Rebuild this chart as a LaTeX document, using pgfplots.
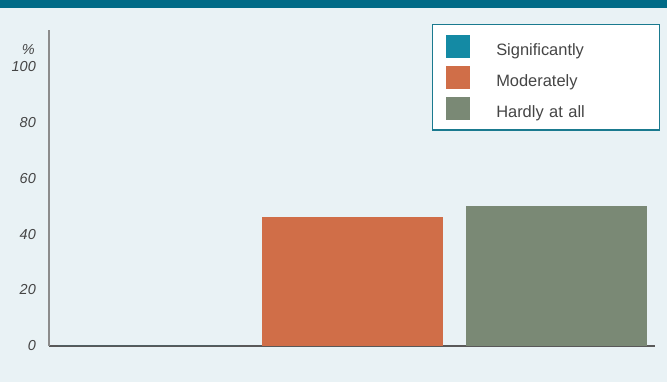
\documentclass[border=0pt]{standalone}
\usepackage{pgfplots}
\pgfplotsset{compat=1.18}
\usepackage{fontspec}
\setmainfont{Liberation Sans}
\definecolor{bg}{HTML}{E9F2F5}
\definecolor{band}{HTML}{006B87}
\definecolor{cSig}{HTML}{148AA4}
\definecolor{cMod}{HTML}{D06E48}
\definecolor{cHard}{HTML}{7A8975}
\definecolor{txt}{HTML}{454545}
\definecolor{legborder}{HTML}{1A7A8F}
\begin{document}
\begin{tikzpicture}
\fill[bg] (0,0) rectangle (667bp,382bp);
\fill[band] (0,373.7bp) rectangle (667bp,382bp);
\begin{axis}[
  at={(49bp,36bp)}, anchor=south west,
  scale only axis, width=606bp, height=316bp,
  xmin=-0.488, xmax=2.483, ymin=0, ymax=112.9,
  axis x line*=bottom, axis y line*=left,
  x axis line style={draw=black!65, line width=1.2bp},
  y axis line style={draw=black!45, line width=1.3bp},
  xtick=\empty, ytick={0,20,40,60,80,100},
  major tick length=0pt,
  /pgf/number format/assume math mode=true,
  yticklabel style={font=\itshape\fontsize{14.5}{17}\selectfont, text=txt, inner sep=0pt, xshift=-13bp, anchor=east},
  ybar, bar width=0.887, bar shift=0pt,
  legend style={at={(rel axis cs:1.008,1.019)}, anchor=north east,
    draw=legborder, line width=1.2bp, fill=white,
    inner xsep=14bp, inner ysep=10bp,
    column sep=26bp, row sep=8.25bp,
    nodes={inner sep=0pt, text height=18.7bp, text depth=0bp, text width=149bp, text=txt,
      font=\fontsize{16.5}{19}\selectfont}},
  legend cell align=left,
  legend image code/.code={\fill[#1] (0bp,-11.5bp) rectangle (24bp,11.5bp);},
]
\addplot[fill=cSig, draw=none] coordinates {(0,0)};
\addplot[fill=cMod, draw=none] coordinates {(1,46.1)};
\addplot[fill=cHard, draw=none] coordinates {(2,50.0)};
\legend{Significantly,Moderately,Hardly at all}
\end{axis}
\node[anchor=east, inner sep=0pt, text=txt, font=\itshape\fontsize{14.5}{17}\selectfont] at (35bp,332bp) {\%};
\pgfresetboundingbox
\useasboundingbox (0,0) rectangle (667bp,382bp);
\end{tikzpicture}
\end{document}
